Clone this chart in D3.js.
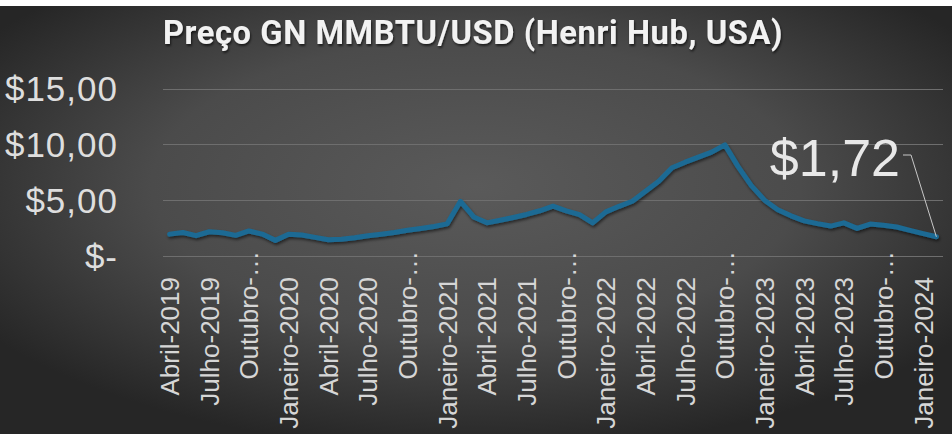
<!DOCTYPE html>
<html>
<head>
<meta charset="utf-8">
<script src="https://cdn.jsdelivr.net/npm/d3@7"></script>
<style>
  html, body { margin: 0; padding: 0; background: #fff; }
  svg { display: block; }
</style>
</head>
<body>
<div id="chart"></div>
<script>
// month names used to build the category labels
var monthNames = ["Janeiro", "Fevereiro", "Março", "Abril", "Maio", "Junho",
  "Julho", "Agosto", "Setembro", "Outubro", "Novembro", "Dezembro"];
var startMonth = 3;   // Abril
var startYear = 2019;

// monthly price, Abril-2019 .. Fevereiro-2024
var prices = [
  1.96, 2.10, 1.82, 2.17, 2.08, 1.85, 2.24, 1.96, 1.40, 1.94, 1.88, 1.67,
  1.45, 1.50, 1.63, 1.82, 1.95, 2.10, 2.30, 2.46, 2.64, 2.88, 4.90, 3.50,
  2.97, 3.20, 3.45, 3.72, 4.05, 4.46, 4.05, 3.70, 2.97, 3.95, 4.45, 4.90,
  5.80, 6.70, 7.90, 8.40, 8.85, 9.30, 9.95, 8.00, 6.30, 5.00, 4.15, 3.60,
  3.15, 2.90, 2.68, 2.97, 2.47, 2.86, 2.75, 2.60, 2.30, 2.00, 1.72
];
var yTicks = [0, 5, 10, 15];
var lastLabel = "$1,72";
var title = "Preço GN MMBTU/USD (Henri Hub, USA)";

var categories = prices.map(function(d, i) {
  var m = (startMonth + i) % 12;
  var y = startYear + Math.floor((startMonth + i) / 12);
  return monthNames[m] + "-" + y;
});

var width = 952, height = 434;
var svg = d3.select("#chart").append("svg")
  .attr("width", width)
  .attr("height", height);

var defs = svg.append("defs");
var bg = defs.append("radialGradient")
  .attr("id", "bg")
  .attr("cx", 0.5).attr("cy", 0.42).attr("r", 0.62);
bg.append("stop").attr("offset", "0%").attr("stop-color", "#5a5a5a");
bg.append("stop").attr("offset", "55%").attr("stop-color", "#4b4b4b");
bg.append("stop").attr("offset", "100%").attr("stop-color", "#262626");

var shadow = defs.append("filter").attr("id", "shadow")
  .attr("x", "-5%").attr("y", "-20%").attr("width", "110%").attr("height", "140%");
shadow.append("feDropShadow")
  .attr("dx", 1).attr("dy", 2).attr("stdDeviation", 1.6)
  .attr("flood-color", "#000").attr("flood-opacity", 0.55);

var tshadow = defs.append("filter").attr("id", "tshadow");
tshadow.append("feDropShadow")
  .attr("dx", 1).attr("dy", 2).attr("stdDeviation", 1.2)
  .attr("flood-color", "#000").attr("flood-opacity", 0.6);

// background, white strip on top like the original
svg.append("rect")
  .attr("x", 0).attr("y", 6)
  .attr("width", width).attr("height", height - 6)
  .attr("fill", "url(#bg)");

var x = d3.scaleBand()
  .domain(categories)
  .range([163, 943]);

var y = d3.scaleLinear()
  .domain([0, 15])
  .range([256, 88.5]);

function px(i) { return x(categories[i]) + x.bandwidth() / 2; }

// gridlines
svg.append("g").selectAll("line")
  .data(yTicks)
  .enter().append("line")
  .attr("x1", 163).attr("x2", 943)
  .attr("y1", function(d) { return Math.round(y(d)) + 0.5; })
  .attr("y2", function(d) { return Math.round(y(d)) + 0.5; })
  .attr("stroke", "#6e6e6e")
  .attr("stroke-width", 1);

// y axis labels
function fmt(v) {
  return v === 0 ? "$-" : "$" + v.toFixed(2).replace(".", ",");
}
svg.append("g").selectAll("text")
  .data(yTicks)
  .enter().append("text")
  .attr("x", 118)
  .attr("y", function(d) { return y(d); })
  .attr("dy", "0.36em")
  .attr("text-anchor", "end")
  .attr("font-family", "'Liberation Sans', Arial, sans-serif")
  .attr("font-size", 35)
  .attr("letter-spacing", 1)
  .attr("fill", "#dedede")
  .text(fmt);

// x axis labels, every third month
var xLabels = categories.filter(function(d, i) { return i % 3 === 0; });
svg.append("g").selectAll("text")
  .data(xLabels)
  .enter().append("text")
  .attr("transform", function(d) {
    var cut = d.indexOf("Outubro") === 0;
    return "translate(" + (x(d) + x.bandwidth() / 2) + "," + (cut ? 251 : 277) + ")rotate(-90)";
  })
  .attr("dy", "0.36em")
  .attr("text-anchor", "end")
  .attr("font-family", "'Liberation Sans', Arial, sans-serif")
  .attr("font-size", 26)
  .attr("fill", "#d6d6d6")
  .text(function(d) { return d.indexOf("Outubro") === 0 ? "Outubro-…" : d; });

// the line
var line = d3.line()
  .x(function(d, i) { return px(i); })
  .y(function(d) { return y(d); });

svg.append("path")
  .datum(prices)
  .attr("d", line)
  .attr("fill", "none")
  .attr("stroke", "#1c6b94")
  .attr("stroke-width", 5)
  .attr("stroke-linejoin", "round")
  .attr("stroke-linecap", "round")
  .attr("filter", "url(#shadow)");

// label for last value with leader line
var last = prices.length - 1;
svg.append("polyline")
  .attr("points", [[903, 155], [911, 155], [px(last), y(prices[last])]].join(" "))
  .attr("fill", "none")
  .attr("stroke", "#c8c8c8")
  .attr("stroke-width", 1);

svg.append("text")
  .attr("x", 900)
  .attr("y", 176)
  .attr("text-anchor", "end")
  .attr("font-family", "'Liberation Sans', Arial, sans-serif")
  .attr("font-size", 52)
  .attr("fill", "#e8e8e8")
  .text(lastLabel);

// title
var t = svg.append("text")
  .attr("x", 473)
  .attr("y", 44)
  .attr("text-anchor", "middle")
  .attr("font-family", "Roboto, 'Open Sans', sans-serif")
  .attr("font-weight", 700)
  .attr("font-size", 26)
  .attr("letter-spacing", 0.6)
  .attr("fill", "#f2f2f2")
  .attr("filter", "url(#tshadow)")
  .text(title);
var w = t.node().getComputedTextLength();
t.attr("font-size", 26 * 626 / w);
</script>
</body>
</html>
